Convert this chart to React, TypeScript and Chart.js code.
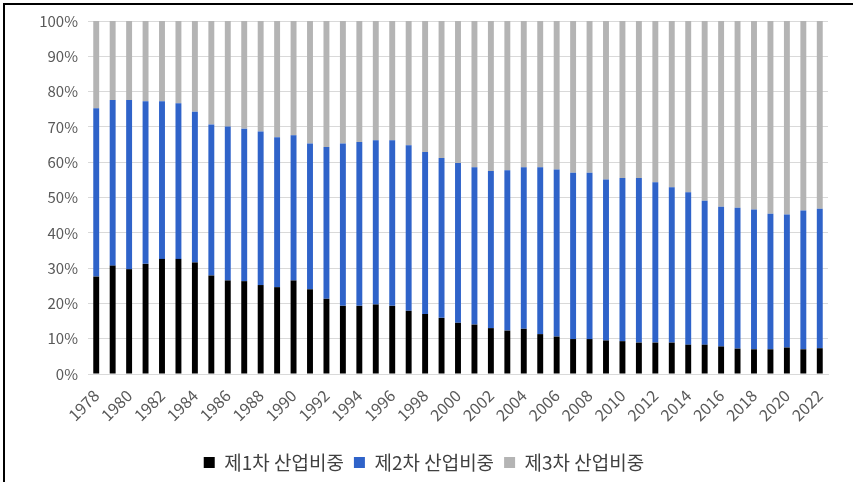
import React, { useEffect, useRef } from "react";
import { Chart, registerables } from "chart.js";

Chart.register(...registerables);

const years: string[] = [
  "1978", "1979", "1980", "1981", "1982", "1983", "1984", "1985", "1986", "1987",
  "1988", "1989", "1990", "1991", "1992", "1993", "1994", "1995", "1996", "1997",
  "1998", "1999", "2000", "2001", "2002", "2003", "2004", "2005", "2006", "2007",
  "2008", "2009", "2010", "2011", "2012", "2013", "2014", "2015", "2016", "2017",
  "2018", "2019", "2020", "2021", "2022",
];

const primaryShare: number[] = [
  27.6, 30.7, 29.7, 31.2, 32.6, 32.6, 31.6, 27.9, 26.5, 26.3,
  25.2, 24.6, 26.5, 24.0, 21.3, 19.3, 19.3, 19.7, 19.3, 17.9,
  17.0, 15.9, 14.5, 14.0, 13.0, 12.3, 12.8, 11.3, 10.6, 9.9,
  9.9, 9.5, 9.3, 8.9, 8.9, 8.9, 8.3, 8.3, 7.8, 7.2,
  7.0, 7.0, 7.5, 7.0, 7.3,
];

const secondaryShare: number[] = [
  47.7, 46.9, 47.9, 46.1, 44.7, 44.1, 42.7, 42.8, 43.6, 43.2,
  43.5, 42.5, 41.1, 41.3, 43.0, 46.0, 46.4, 46.5, 46.9, 46.9,
  45.9, 45.3, 45.3, 44.6, 44.5, 45.4, 45.8, 47.3, 47.3, 47.1,
  47.1, 45.6, 46.2, 46.6, 45.4, 44.0, 43.2, 40.8, 39.6, 39.9,
  39.6, 38.4, 37.7, 39.3, 39.5,
];

const tertiaryShare: number[] = [
  24.7, 22.4, 22.4, 22.7, 22.7, 23.3, 25.7, 29.3, 29.9, 30.5,
  31.3, 32.9, 32.4, 34.7, 35.7, 34.7, 34.3, 33.8, 33.8, 35.2,
  37.1, 38.8, 40.2, 41.4, 42.5, 42.3, 41.4, 41.4, 42.1, 43.0,
  43.0, 44.9, 44.5, 44.5, 45.7, 47.1, 48.5, 50.9, 52.6, 52.9,
  53.4, 54.6, 54.8, 53.7, 53.2,
];

const seriesNames: string[] = ["제1차 산업비중", "제2차 산업비중", "제3차 산업비중"];
const yTicks: number[] = [0, 10, 20, 30, 40, 50, 60, 70, 80, 90, 100];

export default function App() {
  const canvasRef = useRef<HTMLCanvasElement | null>(null);

  useEffect(() => {
    document.body.style.margin = "0";
    const canvas = canvasRef.current;
    if (!canvas) return;
    const font = "'Noto Sans CJK KR', 'Noto Sans', sans-serif";
    const chart = new Chart(canvas, {
      type: "bar",
      data: {
        labels: years,
        datasets: [
          { label: seriesNames[0], data: primaryShare, backgroundColor: "#000000" },
          { label: seriesNames[1], data: secondaryShare, backgroundColor: "#2f63c9" },
          { label: seriesNames[2], data: tertiaryShare, backgroundColor: "#b4b4b4" },
        ],
      },
      options: {
        responsive: false,
        animation: false,
        datasets: {
          bar: { barPercentage: 0.36, categoryPercentage: 1.0, borderWidth: 0 },
        },
        layout: { padding: { left: 20, right: 25, top: 21, bottom: 0 } },
        plugins: {
          tooltip: { enabled: false },
          legend: {
            position: "bottom",
            labels: {
              boxWidth: 11,
              boxHeight: 11,
              padding: 10,
              color: "#404040",
              font: { family: font, size: 19 },
            },
          },
        },
        scales: {
          x: {
            stacked: true,
            grid: { display: false },
            border: { display: true, color: "#d9d9d9" },
            ticks: {
              autoSkip: false,
              maxRotation: 45,
              minRotation: 45,
              color: "#595959",
              padding: 4,
              font: { family: font, size: 16 },
              callback: (_v: any, i: number) => (i % 2 === 0 ? years[i] : ""),
            },
            afterFit: (scale: any) => {
              scale.height = 69;
            },
          },
          y: {
            stacked: true,
            min: 0,
            max: 100,
            afterBuildTicks: (scale: any) => {
              scale.ticks = yTicks.map((v) => ({ value: v }));
            },
            grid: { color: "#d9d9d9", drawTicks: false },
            border: { display: false },
            ticks: {
              color: "#595959",
              padding: 10,
              font: { family: font, size: 15 },
              callback: (v: any) => v + "%",
            },
            afterFit: (scale: any) => {
              scale.width = 68;
            },
          },
        },
      },
    });
    return () => chart.destroy();
  }, []);

  return (
    <div style={{ position: "absolute", left: 0, top: 0, width: 853, height: 482, background: "#ffffff" }}>
      <div
        style={{
          position: "absolute",
          left: 3,
          top: 3,
          width: 850,
          height: 479,
          borderTop: "2px solid #000",
          borderLeft: "2px solid #000",
          boxSizing: "border-box",
        }}
      />
      <canvas ref={canvasRef} width={853} height={482} style={{ position: "absolute", left: 0, top: 0 }} />
    </div>
  );
}
